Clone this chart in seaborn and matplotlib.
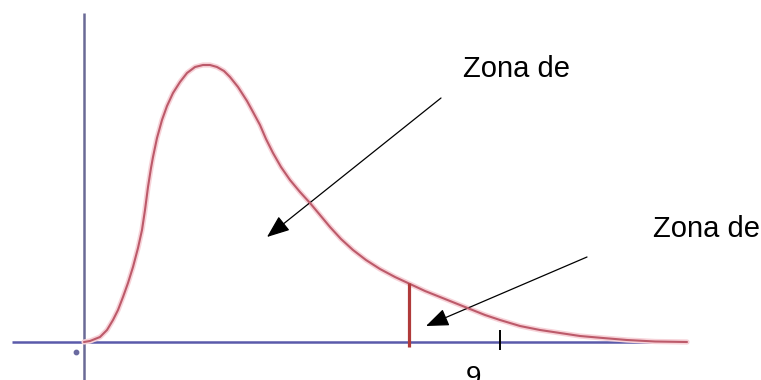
"""
Distribución chi-cuadrado con zonas de aceptación / rechazo.
"""
import numpy as np
import pandas as pd
import seaborn as sns
import matplotlib.pyplot as plt

# ── Datos ─────────────────────────────────────────────────────
CURVE_X = [0.0, 0.24, 0.64, 0.92, 1.16, 1.36, 1.56, 1.76, 1.96, 2.16, 2.32,
           2.44, 2.56, 2.68, 2.76, 2.92, 3.12, 3.32, 3.56, 3.84, 4.12, 4.44,
           4.76, 5.04, 5.32, 5.60, 5.84, 6.16, 6.52, 6.76, 7.04, 7.28, 7.56,
           7.88, 8.24, 8.64, 9.04, 9.44, 9.84, 10.28, 10.76, 11.28, 11.84,
           12.44, 13.04, 13.64, 14.24, 14.84, 15.44, 16.04, 16.64, 17.44,
           18.24, 19.04, 19.84, 20.76, 21.72, 22.84, 24.12]
CURVE_Y = [0.0, 0.001, 0.005, 0.012, 0.022, 0.032, 0.045, 0.059, 0.075,
           0.094, 0.112, 0.132, 0.155, 0.174, 0.185, 0.204, 0.222, 0.236,
           0.249, 0.260, 0.269, 0.275, 0.277, 0.277, 0.275, 0.271, 0.265,
           0.255, 0.241, 0.230, 0.217, 0.203, 0.189, 0.175, 0.162, 0.150,
           0.139, 0.127, 0.115, 0.103, 0.092, 0.082, 0.073, 0.065, 0.058,
           0.051, 0.045, 0.039, 0.033, 0.027, 0.022, 0.016, 0.012, 0.009,
           0.006, 0.004, 0.002, 0.0005, 0.0]
CRITICAL_X = 13.0
CRITICAL_Y = 0.059
TICK_X = 16.64
TICK_LABEL = "9"
ZONE_LABELS = ["Zona de", "Zona de"]

# ── Configuración ─────────────────────────────────────────────
X_LIM = (-3.36, 27.08)
Y_LIM = (-0.038, 0.342)
FONT = ["Liberation Sans", "DejaVu Sans"]

sns.set_style("white")
plt.rcParams["font.family"] = FONT

df = pd.DataFrame({"x": CURVE_X, "y": CURVE_Y})

fig = plt.figure(figsize=(7.61, 3.80), dpi=100)
ax = fig.add_axes([0, 0, 1, 1])
ax.set_xlim(*X_LIM)
ax.set_ylim(*Y_LIM)
ax.axis("off")

# ejes
ax.hlines(0, -2.88, 24.16, color="#5a5aaa", lw=1.8, zorder=1)
ax.vlines(0, Y_LIM[0], 0.329, color="#6a6a96", lw=1.8, zorder=1)
ax.scatter([-0.32], [-0.010], s=10, color="#6a6aa0", zorder=2)

# curva (halo rosado + trazo)
sns.lineplot(data=df, x="x", y="y", ax=ax, sort=False, estimator=None,
             color="#f7d2d8", lw=3.8, zorder=3)
sns.lineplot(data=df, x="x", y="y", ax=ax, sort=False, estimator=None,
             color="#bc5a6a", lw=1.5, zorder=4)

# valor crítico y marca
ax.vlines(CRITICAL_X, -0.005, CRITICAL_Y, color="#b03a3a", lw=2.3, zorder=5)
ax.vlines(TICK_X, -0.008, 0.012, color="black", lw=1.4, zorder=5)
ax.text(15.28, -0.023, TICK_LABEL, fontsize=20, va="top", ha="left",
        color="black")

# etiquetas y flechas
arrow = dict(arrowstyle="-|>,head_length=1.4,head_width=0.55",
             color="black", lw=0.9, shrinkA=0, shrinkB=0, mutation_scale=10)
ax.text(15.16, 0.265, ZONE_LABELS[0], fontsize=21, va="baseline", ha="left",
        color="black")
ax.annotate("", xy=(7.32, 0.105), xytext=(14.28, 0.244), arrowprops=arrow)
ax.text(22.76, 0.105, ZONE_LABELS[1], fontsize=21, va="baseline", ha="left",
        color="black")
ax.annotate("", xy=(13.68, 0.016), xytext=(20.12, 0.085), arrowprops=arrow)

fig.savefig("out.png", dpi=100)
